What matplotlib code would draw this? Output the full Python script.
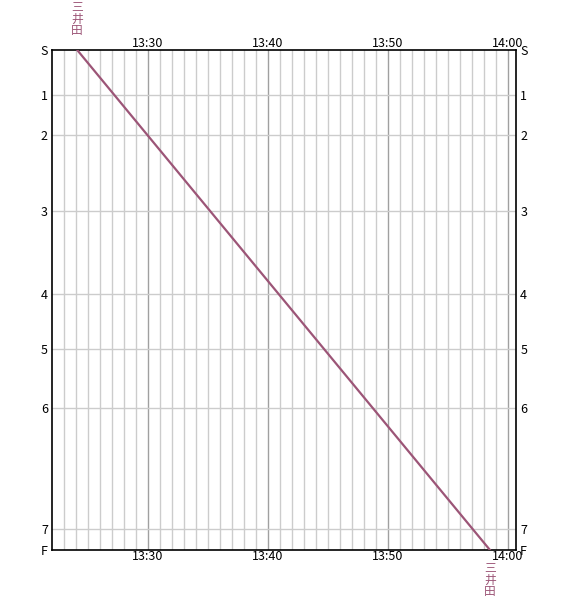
import matplotlib
matplotlib.use("Agg")
import matplotlib.pyplot as plt

plt.rcParams['font.family'] = ['Noto Sans CJK JP', 'DejaVu Sans']

# ---------------- Data ----------------
station_labels = ["S", "1", "2", "3", "4", "5", "6", "7", "F"]
station_dist = [0.0, 0.9, 1.7, 3.22, 4.88, 5.98, 7.16, 9.58, 10.0]

# train run: departure at S, arrival at F (minutes since midnight)
train_times = [13 * 60 + 24.1, 13 * 60 + 58.5]
train_dist = [0.0, 10.0]
train_name = "三井田"

time_start = 13 * 60 + 22
time_end = 14 * 60 + 0.67
major_times = [13 * 60 + 30, 13 * 60 + 40, 13 * 60 + 50, 14 * 60]
major_labels = ["13:30", "13:40", "13:50", "14:00"]

line_color = "#9c5577"

# ---------------- Figure ----------------
fig = plt.figure(figsize=(5.68, 6.0), dpi=100)
ax = fig.add_axes([52 / 568, 50 / 600, 464 / 568, 500 / 600])

# minute grid
for m in range(int(time_start) + 1, int(time_end) + 1):
    if m in major_times:
        ax.axvline(m, color="#a0a0a0", lw=1.0, zorder=1)
    else:
        ax.axvline(m, color="#cccccc", lw=1.0, zorder=1)

# station grid
for d in station_dist[1:-1]:
    ax.axhline(d, color="#cccccc", lw=1.0, zorder=1)

ax.plot(train_times, train_dist, color=line_color, lw=1.6, zorder=3)

ax.set_xlim(time_start, time_end)
ax.set_ylim(station_dist[-1], station_dist[0])

ax.set_xticks(major_times)
ax.set_xticklabels(major_labels)
ax.set_yticks(station_dist)
ax.set_yticklabels(station_labels)
ax.tick_params(axis="both", length=0, labelsize=9, pad=2)
ax.tick_params(axis="x", top=True, labeltop=True, bottom=True, labelbottom=True, pad=0)
ax.tick_params(axis="y", left=True, labelleft=True, right=True, labelright=True, pad=3)

for s in ax.spines.values():
    s.set_color("black")
    s.set_linewidth(1.2)

# train name labels, one character per row (vertical writing)
step = 8.6  # points between characters
for i, ch in enumerate(train_name):
    ax.annotate(ch, xy=(train_times[0], station_dist[0]),
                xytext=(0, 13.7 + step * (len(train_name) - 1 - i)),
                textcoords="offset points", ha="center", va="center",
                color=line_color, fontsize=8.5, annotation_clip=False)
    ax.annotate(ch, xy=(train_times[-1], station_dist[-1]),
                xytext=(0, -13 - step * i),
                textcoords="offset points", ha="center", va="center",
                color=line_color, fontsize=8.5, annotation_clip=False)

fig.savefig("out.png", dpi=100)
